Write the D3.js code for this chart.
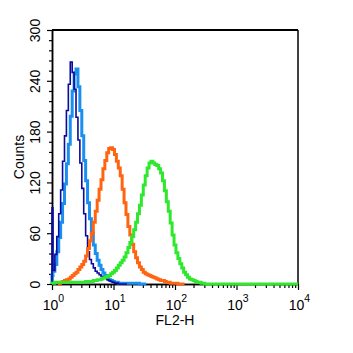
<!DOCTYPE html>
<html>
<head>
<meta charset="utf-8">
<script src="https://cdn.jsdelivr.net/npm/d3@7"></script>
<style>
  body { margin: 0; background: #fff; }
  text { font-family: "Liberation Sans", Arial, sans-serif; fill: #000; }
</style>
</head>
<body>
<script>
// histogram channels: 32 channels per decade, channel 0 = 10^0
const channelsPerDecade = 32
const maxChannel = 128

// counts per channel
const darkBlueStart = 0
const darkBlueCounts = [90, 16, 35, 56, 83, 111, 145, 175, 205, 236, 262, 250, 230, 197, 170, 143, 113, 83, 57, 38,
  29, 24, 19, 15, 13, 11, 9, 8, 7, 5, 4, 3, 2, 1, 1, 0, 0, 0, 0, 0]

const lightBlueStart = 0
const lightBlueCounts = [10, 15, 23, 38, 55, 73, 95, 118, 142, 165, 198, 228, 248, 254, 233, 205, 175, 146, 122, 96,
  77, 60, 46, 36, 28, 22, 17, 13, 10, 7, 5, 4, 3, 2, 2, 1, 1, 1, 1, 1, 1, 1, 1, 1, 1, 1, 0, 0, 0, 0]

const orangeStart = 3
const orangeCounts = [0, 1, 2, 3, 4, 5, 6, 8, 10, 12, 14, 17, 20, 23, 27, 33, 42, 51, 60, 73,
  86, 99, 112, 123, 136, 146, 155, 160, 161, 159, 153, 145, 137, 128, 112, 96, 82, 68, 58, 47,
  38, 31, 25, 20, 17, 14, 12, 11, 10, 9, 8, 7, 6, 5, 4, 4, 3, 2, 2, 1, 1, 1, 1, 0, 0, 0, 0]

const greenStart = 0
const greenCounts = [1, 1, 2, 2, 2, 2, 2, 2, 2, 2, 2, 2, 2, 2, 2, 2, 2, 2, 3, 3,
  3, 3, 4, 4, 5, 5, 6, 7, 8, 9, 10, 12, 14, 16, 19, 22, 25, 28, 32, 37,
  43, 49, 56, 64, 73, 83, 93, 105, 117, 128, 137, 143, 145, 143, 141, 140, 136, 131, 122, 110,
  97, 86, 72, 58, 46, 37, 30, 24, 19, 14, 11, 8, 6, 5, 4, 3, 2, 2, 1, 1, 0]

const yTicks = [0, 60, 120, 180, 240, 300]
const xDecades = [1, 10, 100, 1000, 10000]

const W = 353, H = 353
const margin = { top: 30, right: 55, bottom: 69, left: 52 }

const svg = d3.select("body")
  .append("svg")
  .attr("width", W)
  .attr("height", H)

const x = d3.scaleLog()
  .domain([1, 10000])
  .range([margin.left, W - margin.right])

const y = d3.scaleLinear()
  .domain([0, 300])
  .range([H - margin.bottom, margin.top])

const chToValue = ch => Math.pow(10, ch / channelsPerDecade)

function series(start, counts, extendToEnd) {
  let pts = [[start, 0]]
  counts.forEach((c, i) => pts.push([start + i, c]))
  if (extendToEnd) pts.push([maxChannel, 0])
  return pts
}

const line = d3.line()
  .x(d => x(chToValue(d[0])))
  .y(d => y(d[1]))
  .curve(d3.curveStep)

// axes first, curves drawn over them
const minorX = []
xDecades.slice(0, -1).forEach(d => {
  for (let k = 2; k <= 9; k++) minorX.push(d * k)
})
const minorY = d3.range(0, 301, 12).filter(v => v % 60 !== 0)

const xAxisG = svg.append("g")
  .attr("transform", `translate(0,${y(0)})`)
xAxisG.append("g")
  .call(d3.axisBottom(x).tickValues(minorX).tickSize(4).tickSizeOuter(0).tickFormat(""))
xAxisG.append("g")
  .attr("class", "major")
  .call(d3.axisBottom(x).tickValues(xDecades).tickSize(6).tickSizeOuter(0).tickFormat(""))

xAxisG.selectAll(".major .tick").each(function (d) {
  const t = d3.select(this).append("text")
    .attr("x", 1)
    .attr("y", 26)
    .attr("text-anchor", "middle")
    .style("font-size", "14px")
  t.append("tspan").text("10")
  t.append("tspan")
    .attr("dy", -8)
    .style("font-size", "10.5px")
    .text(Math.round(Math.log10(d)))
})

const yAxisG = svg.append("g")
  .attr("transform", `translate(${x(1)},0)`)
yAxisG.append("g")
  .call(d3.axisLeft(y).tickValues(minorY).tickSize(3).tickSizeOuter(0).tickFormat(""))
yAxisG.append("g")
  .attr("class", "major")
  .call(d3.axisLeft(y).tickValues(yTicks).tickSize(5).tickSizeOuter(0).tickFormat(""))

yAxisG.selectAll(".major .tick").append("text")
  .attr("transform", "translate(-12.5,0) rotate(-90)")
  .attr("text-anchor", "middle")
  .style("font-size", "14px")
  .text(d => d)

svg.selectAll(".domain")
  .attr("stroke", "#000")
  .attr("stroke-width", 1.5)
svg.selectAll(".tick line")
  .attr("stroke", "#000")
  .attr("stroke-width", 1.2)

// frame top and right
svg.append("line")
  .attr("x1", x(1)).attr("x2", x(10000))
  .attr("y1", y(300)).attr("y2", y(300))
  .attr("stroke", "#000").attr("stroke-width", 2)
svg.append("line")
  .attr("x1", x(10000)).attr("x2", x(10000))
  .attr("y1", y(300)).attr("y2", y(0))
  .attr("stroke", "#000").attr("stroke-width", 1.5)

// axis titles
svg.append("text")
  .attr("transform", `translate(23.5,${(y(0) + y(300)) / 2}) rotate(-90)`)
  .attr("text-anchor", "middle")
  .style("font-size", "14px")
  .text("Counts")

svg.append("text")
  .attr("x", (x(1) + x(10000)) / 2)
  .attr("y", 325)
  .attr("text-anchor", "middle")
  .style("font-size", "14px")
  .text("FL2-H")

// histograms
const curves = [
  { name: "lightBlue", pts: series(lightBlueStart, lightBlueCounts), color: "#1a8ff0", width: 3 },
  { name: "darkBlue", pts: series(darkBlueStart, darkBlueCounts), color: "#0a0a9c", width: 1.6 },
  { name: "orange", pts: series(orangeStart, orangeCounts), color: "#ff6410", width: 3 },
  { name: "green", pts: series(greenStart, greenCounts, true), color: "#2ee82e", width: 3 }
]

svg.append("g")
  .selectAll("path")
  .data(curves)
  .enter()
  .append("path")
  .attr("class", d => d.name)
  .attr("d", d => line(d.pts))
  .attr("fill", "none")
  .attr("stroke", d => d.color)
  .attr("stroke-width", d => d.width)
  .attr("stroke-linejoin", "miter")
</script>
</body>
</html>
